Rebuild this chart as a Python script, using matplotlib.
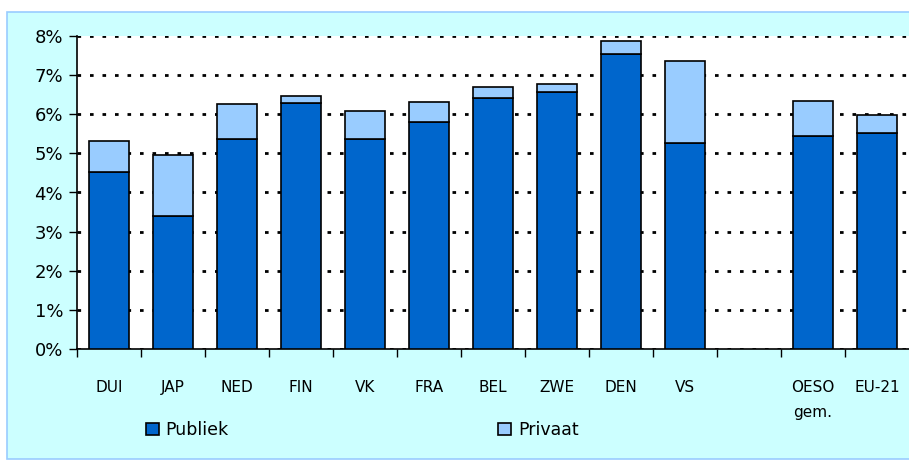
import matplotlib
matplotlib.use("Agg")
import matplotlib.pyplot as plt
import matplotlib.patches as mpatches
import numpy as np

# data (share of GDP, %)
landen = ['DUI', 'JAP', 'NED', 'FIN', 'VK', 'FRA', 'BEL', 'ZWE', 'DEN', 'VS', 'OESO\ngem.', 'EU-21']
publiek = [4.53, 3.40, 5.37, 6.29, 5.37, 5.81, 6.42, 6.57, 7.54, 5.27, 5.45, 5.52]
totaal = [5.32, 4.96, 6.27, 6.47, 6.09, 6.32, 6.70, 6.78, 7.88, 7.37, 6.34, 5.98]
privaat = [t - p for t, p in zip(totaal, publiek)]

# slot positions, one empty slot between VS and OESO
pos = [0, 1, 2, 3, 4, 5, 6, 7, 8, 9, 11, 12]

fig = plt.figure(figsize=(9.09, 4.61), dpi=100)
fig.patch.set_facecolor('white')
fig.patches.append(mpatches.Rectangle((7 / 909, 0.004), 1.0, (461 - 12) / 461 - 0.004,
                                      transform=fig.transFigure, facecolor='#CCFFFF',
                                      edgecolor='#99CCFF', linewidth=1.2, zorder=-5))

ax = fig.add_axes([77 / 909, 1 - 349 / 461, 832 / 909, 313 / 461])
ax.set_zorder(2)
ax.set_facecolor('white')

ax.bar(pos, publiek, width=0.62, color='#0066CC', edgecolor='black', linewidth=1.2,
       label='Publiek', zorder=3)
ax.bar(pos, privaat, bottom=publiek, width=0.62, color='#99CCFF', edgecolor='black',
       linewidth=1.2, label='Privaat', zorder=3)

ax.set_ylim(0, 8)
ax.set_xlim(-0.5, 12.5)
ax.set_yticks(np.arange(0, 9, 1))
ax.set_yticklabels([f'{v}%' for v in range(9)], fontsize=13)
ax.yaxis.grid(True, color='black', linestyle=(0, (1.3, 3.2)), linewidth=2.0)
ax.set_axisbelow(True)
ax.tick_params(axis='y', direction='out', length=6, width=1, pad=4)

ax.set_xticks(pos)
ax.set_xticklabels(landen, fontsize=11, linespacing=1.85, va='top')
ax.tick_params(axis='x', which='major', length=0, pad=22)
ax.set_xticks(np.arange(-0.5, 12.5, 1), minor=True)
ax.tick_params(axis='x', which='minor', direction='out', length=6, width=1)

for s in ['top', 'right']:
    ax.spines[s].set_visible(False)
ax.spines['left'].set_linewidth(1.2)
ax.spines['bottom'].set_linewidth(1.2)

fig.legend(loc='center left', bbox_to_anchor=(137 / 909, 1 - 430 / 461), ncol=2,
           frameon=False, fontsize=12.5, handlelength=0.75, handleheight=0.75,
           handletextpad=0.4, columnspacing=15.5, borderpad=0)

fig.savefig('out.png', dpi=100, facecolor=fig.get_facecolor())
